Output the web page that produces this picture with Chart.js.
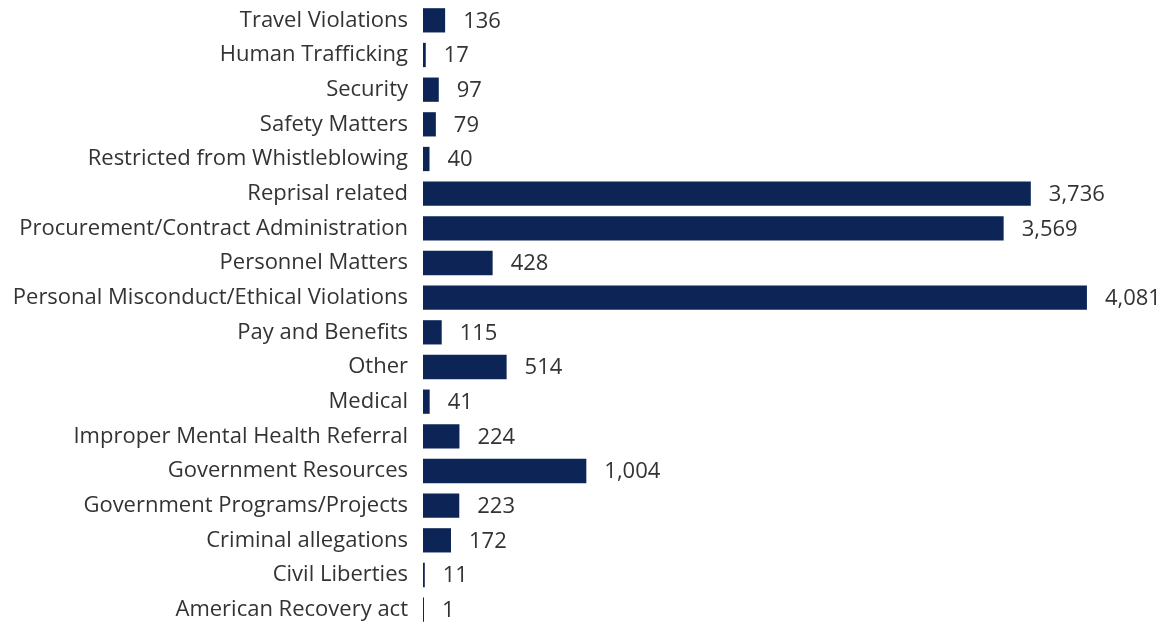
<!DOCTYPE html>
<html>
<head>
<meta charset="utf-8">
<script src="https://cdn.jsdelivr.net/npm/chart.js@4"></script>
<style>
  html, body { margin: 0; padding: 0; background: #fff; }
  #wrap { width: 1166px; height: 628px; }
</style>
</head>
<body>
<div id="wrap"><canvas id="chart"></canvas></div>
<script>
// categories, top to bottom as in the picture
const categories = [
    'Travel Violations',
    'Human Trafficking',
    'Security',
    'Safety Matters',
    'Restricted from Whistleblowing',
    'Reprisal related',
    'Procurement/Contract Administration',
    'Personnel Matters',
    'Personal Misconduct/Ethical Violations',
    'Pay and Benefits',
    'Other',
    'Medical',
    'Improper Mental Health Referral',
    'Government Resources',
    'Government Programs/Projects',
    'Criminal allegations',
    'Civil Liberties',
    'American Recovery act'
];

const counts = [136, 17, 97, 79, 40, 3736, 3569, 428, 4081, 115, 514, 41, 224, 1004, 223, 172, 11, 1];

const FAMILY = '"Open Sans", Lato, sans-serif';
const SIZE = 22;
const TEXT = '#333333';
const BAR = '#0d2456';

// draw the value next to each bar
const valueLabels = {
    id: 'valueLabels',
    afterDatasetsDraw(chart) {
        const { ctx } = chart;
        const meta = chart.getDatasetMeta(0);
        ctx.save();
        ctx.font = SIZE + 'px ' + FAMILY;
        ctx.fillStyle = TEXT;
        ctx.textAlign = 'left';
        ctx.textBaseline = 'middle';
        meta.data.forEach((bar, i) => {
            ctx.fillText(counts[i].toLocaleString('en-US'), bar.x + 18, bar.y + 1);
        });
        ctx.restore();
    }
};

const ctx = document.getElementById('chart').getContext('2d');
new Chart(ctx, {
    type: 'bar',
    data: {
        labels: categories,
        datasets: [{
            data: counts,
            backgroundColor: BAR,
            borderWidth: 0,
            minBarLength: 1,
            barPercentage: 0.7,
            categoryPercentage: 1
        }]
    },
    options: {
        indexAxis: 'y',
        responsive: true,
        maintainAspectRatio: false,
        animation: false,
        layout: { padding: { top: 3, bottom: 1, right: 0, left: 0 } },
        plugins: {
            legend: { display: false },
            tooltip: { enabled: false }
        },
        scales: {
            x: {
                display: false,
                min: 0,
                max: 4567
            },
            y: {
                afterFit(scale) {
                    scale.width = 423;
                    scale.paddingTop = 0;
                    scale.paddingBottom = 0;
                },
                grid: { display: false, drawTicks: false },
                border: { display: false },
                ticks: {
                    color: TEXT,
                    font: { family: FAMILY, size: SIZE },
                    padding: 15,
                    autoSkip: false
                }
            }
        }
    },
    plugins: [valueLabels]
});
</script>
</body>
</html>
